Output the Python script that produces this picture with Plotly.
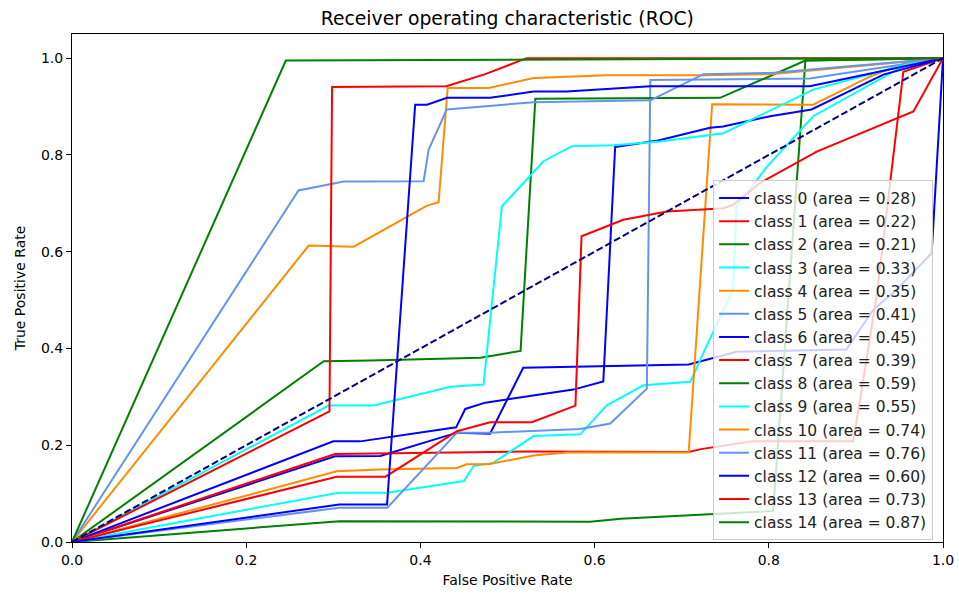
import plotly.graph_objects as go

# ---------------- data ----------------
class_ids = list(range(15))
roc_auc = [0.28, 0.22, 0.21, 0.33, 0.35, 0.41, 0.45, 0.39, 0.59, 0.55, 0.74, 0.76, 0.60, 0.73, 0.87]
line_colors = ['blue', 'red', 'green', 'cyan', 'darkorange', 'cornflowerblue']

fpr_0 = [0, 0.302, 0.354, 0.442, 0.480, 0.518, 0.708, 0.728, 0.763, 0.889, 0.920, 0.947, 0.987, 1.0]
tpr_0 = [0, 0.177, 0.178, 0.226, 0.224, 0.360, 0.367, 0.377, 0.393, 0.398, 0.480, 0.522, 0.597, 1.0]

fpr_1 = [0, 0.302, 0.522, 0.708, 0.722, 0.782, 0.897, 0.924, 0.9545, 1.0]
tpr_1 = [0, 0.182, 0.187, 0.186, 0.192, 0.208, 0.208, 0.511, 0.972, 1.0]

fpr_2 = [0, 0.307, 0.595, 0.630, 0.805, 0.842, 1.0]
tpr_2 = [0, 0.043, 0.042, 0.048, 0.064, 0.995, 1.0]

fpr_3 = [0, 0.306, 0.362, 0.450, 0.461, 0.484, 0.530, 0.5835, 0.614, 0.656, 0.710, 0.729, 0.759, 0.763, 0.798, 0.851, 0.958, 1.0]
tpr_3 = [0, 0.102, 0.102, 0.126, 0.157, 0.164, 0.219, 0.2225, 0.2825, 0.324, 0.331, 0.407, 0.522, 0.694, 0.776, 0.880, 0.987, 1.0]

fpr_4 = [0, 0.304, 0.352, 0.442, 0.453, 0.478, 0.530, 0.568, 0.708, 0.735, 0.851, 0.916, 0.962, 1.0]
tpr_4 = [0, 0.146, 0.150, 0.153, 0.1605, 0.1605, 0.179, 0.185, 0.185, 0.905, 0.904, 0.962, 0.993, 1.0]

fpr_5 = [0, 0.307, 0.362, 0.442, 0.480, 0.5835, 0.618, 0.660, 0.664, 0.847, 1.0]
tpr_5 = [0, 0.071, 0.071, 0.226, 0.226, 0.2335, 0.245, 0.317, 0.955, 0.958, 1.0]

fpr_6 = [0, 0.300, 0.331, 0.441, 0.4515, 0.4745, 0.5755, 0.610, 0.6236, 0.673, 0.7326, 0.7476, 0.8015, 0.849, 0.9315, 1.0]
tpr_6 = [0, 0.208, 0.208, 0.237, 0.275, 0.288, 0.315, 0.332, 0.8165, 0.830, 0.856, 0.859, 0.880, 0.894, 0.966, 1.0]

fpr_7 = [0, 0.304, 0.360, 0.442, 0.480, 0.528, 0.578, 0.585, 0.633, 0.683, 0.729, 0.748, 0.759, 0.790, 0.855, 0.966, 1.0]
tpr_7 = [0, 0.135, 0.135, 0.229, 0.2475, 0.2475, 0.282, 0.632, 0.666, 0.683, 0.688, 0.690, 0.697, 0.742, 0.807, 0.890, 1.0]

fpr_8 = [0, 0.289, 0.3425, 0.469, 0.515, 0.532, 0.744, 0.842, 1.0]
tpr_8 = [0, 0.3735, 0.375, 0.381, 0.395, 0.916, 0.918, 0.995, 1.0]

fpr_9 = [0, 0.2947, 0.3464, 0.4343, 0.4725, 0.4936, 0.5414, 0.574, 0.622, 0.675, 0.748, 0.851, 0.958, 1.0]
tpr_9 = [0, 0.282, 0.282, 0.321, 0.3256, 0.694, 0.787, 0.818, 0.820, 0.828, 0.845, 0.935, 0.987, 1.0]

fpr_10 = [0, 0.2717, 0.3234, 0.4076, 0.4209, 0.4313, 0.4784, 0.530, 0.614, 0.725, 0.8015, 1.0]
tpr_10 = [0, 0.6126, 0.6105, 0.6952, 0.7021, 0.9384, 0.9384, 0.959, 0.9645, 0.9645, 0.967, 1.0]

fpr_11 = [0, 0.260, 0.312, 0.4037, 0.4095, 0.4303, 0.530, 0.664, 0.725, 0.8015, 1.0]
tpr_11 = [0, 0.7265, 0.745, 0.7455, 0.811, 0.894, 0.909, 0.913, 0.967, 0.9695, 1.0]

fpr_12 = [0, 0.307, 0.3617, 0.394, 0.4076, 0.4305, 0.480, 0.530, 0.568, 0.664, 0.847, 1.0]
tpr_12 = [0, 0.0775, 0.0775, 0.904, 0.904, 0.918, 0.918, 0.931, 0.931, 0.942, 0.942, 1.0]

fpr_13 = [0, 0.2956, 0.2986, 0.4297, 0.4745, 0.522, 1.0]
tpr_13 = [0, 0.270, 0.9405, 0.942, 0.967, 1.0, 1.0]

fpr_14 = [0, 0.2455, 1.0]
tpr_14 = [0, 0.995, 1.0]

diag_x = [0, 1]
diag_y = [0, 1]

tick_vals = [0.0, 0.2, 0.4, 0.6, 0.8, 1.0]
tick_text = ["0.0", "0.2", "0.4", "0.6", "0.8", "1.0"]

fprs = [fpr_0, fpr_1, fpr_2, fpr_3, fpr_4, fpr_5, fpr_6, fpr_7,
        fpr_8, fpr_9, fpr_10, fpr_11, fpr_12, fpr_13, fpr_14]
tprs = [tpr_0, tpr_1, tpr_2, tpr_3, tpr_4, tpr_5, tpr_6, tpr_7,
        tpr_8, tpr_9, tpr_10, tpr_11, tpr_12, tpr_13, tpr_14]

# ---------------- figure ----------------
FONT = "DejaVu Sans"
fig = go.Figure()

for i in class_ids:
    fig.add_trace(go.Scatter(
        x=fprs[i], y=tprs[i], mode="lines",
        line=dict(color=line_colors[i % len(line_colors)], width=2),
        name=f"class {i} (area = {roc_auc[i]:.2f})",
        legendgroup=f"g{i}",
    ))

fig.add_trace(go.Scatter(
    x=diag_x, y=diag_y, mode="lines",
    line=dict(color="navy", width=2, dash="7px,3px"),
    showlegend=False,
))

axis_common = dict(
    showline=True, mirror=True, linecolor="black", linewidth=1,
    ticks="outside", ticklen=5, tickwidth=1, tickcolor="black",
    showgrid=False, zeroline=False,
    tickvals=tick_vals, ticktext=tick_text,
    tickfont=dict(family=FONT, size=14, color="black"),
)

fig.update_layout(
    width=959, height=598,
    margin=dict(l=72, r=16, t=34, b=56, autoexpand=False),
    paper_bgcolor="white", plot_bgcolor="white",
    font=dict(family=FONT, size=14, color="black"),
    title=dict(text="Receiver operating characteristic (ROC)",
               x=0.529, xanchor="center", y=0.97, yanchor="middle",
               font=dict(family=FONT, size=18.8, color="black")),
    xaxis=dict(range=[0, 1], title=dict(text="False Positive Rate", standoff=8,
                                        font=dict(family=FONT, size=14, color="black")),
               **axis_common),
    yaxis=dict(range=[0, 1.05], title=dict(text="True Positive Rate", standoff=12,
                                           font=dict(family=FONT, size=14, color="black")),
               **axis_common),
    legend=dict(x=0.9886, xanchor="right", y=0.003, yanchor="bottom",
                bgcolor="rgba(255,255,255,0.8)", bordercolor="#cccccc", borderwidth=1,
                font=dict(family=FONT, size=15.5, color="#222222"),
                tracegroupgap=0),
)

fig.write_html("out.html", config={"displayModeBar": False},
               post_script="document.body.style.margin='0';")
